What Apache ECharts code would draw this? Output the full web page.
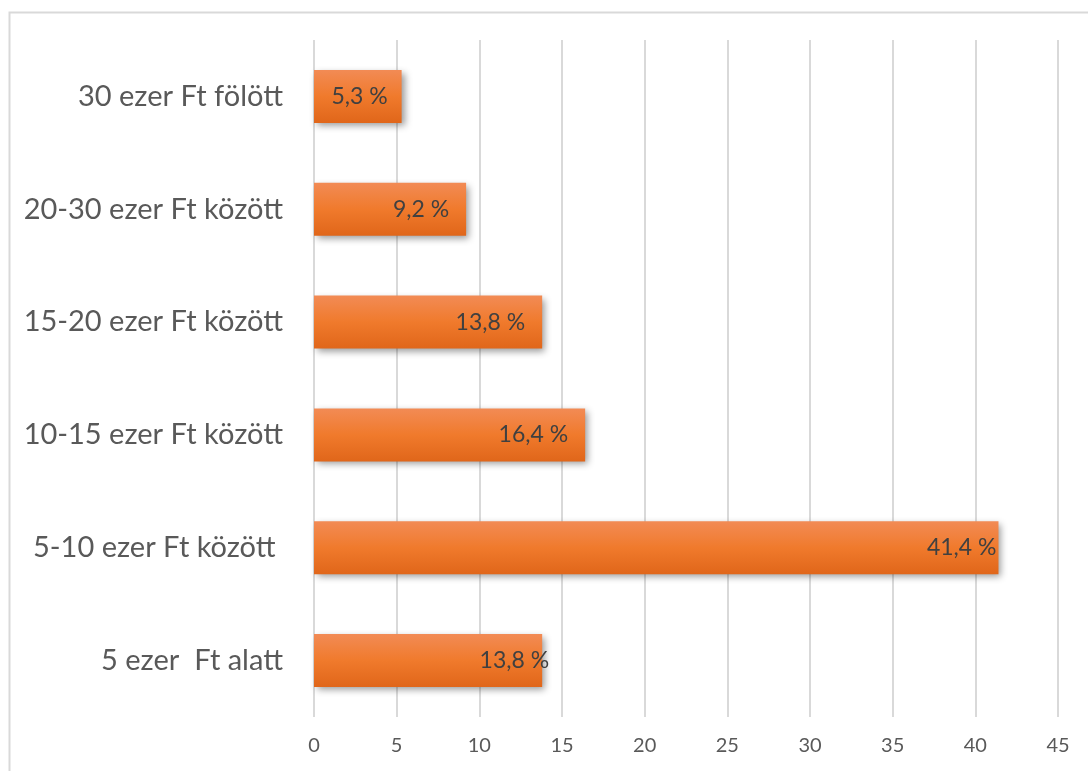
<!DOCTYPE html>
<html><head><meta charset="utf-8">
<script src="https://cdn.jsdelivr.net/npm/echarts@6/dist/echarts.min.js"></script>
<style>html,body{margin:0;padding:0;background:#fff}#c{width:1088px;height:771px}</style>
</head><body><div id="c"></div>
<script>
const categories = ['5 ezer  Ft alatt', '5-10 ezer Ft között ', '10-15 ezer Ft között', '15-20 ezer Ft között', '20-30 ezer Ft között', '30 ezer Ft fölött'];
const values = [13.8, 41.4, 16.4, 13.8, 9.2, 5.3];
const valueLabels = ['13,8 %', '41,4 %', '16,4 %', '13,8 %', '9,2 %', '5,3 %'];
const xTicks = [0, 5, 10, 15, 20, 25, 30, 35, 40, 45];

// manual label nudges (px) as in the original layout
const labelShift = {0: 24, 1: 15, 5: 3};

const font = 'Lato, "Open Sans", sans-serif';
const chart = echarts.init(document.getElementById('c'), null, {renderer: 'canvas'});
chart.setOption({
  animation: false,
  backgroundColor: '#fff',
  graphic: [{
    type: 'rect', left: 7, top: 10, z: -10,
    shape: {width: 1200, height: 900},
    style: {fill: 'none', stroke: '#d9d9d9', lineWidth: 2}
  }],
  grid: {left: 314, top: 40, width: 744, height: 677, containLabel: false},
  xAxis: {
    type: 'value', min: xTicks[0], max: xTicks[xTicks.length - 1], interval: 5,
    axisLine: {show: false}, axisTick: {show: false},
    splitLine: {show: true, lineStyle: {color: '#d9d9d9', width: 2}},
    axisLabel: {color: '#595959', fontSize: 20, fontFamily: font, margin: 19}
  },
  yAxis: {
    type: 'category', data: categories,
    axisLine: {show: false}, axisTick: {show: false},
    axisLabel: {color: '#595959', fontSize: 29, fontFamily: font, margin: 31}
  },
  series: [{
    type: 'bar',
    data: values.map((v, i) => ({
      value: v,
      label: labelShift[i] ? {offset: [labelShift[i], 0]} : undefined
    })),
    barCategoryGap: '53%',
    itemStyle: {
      color: new echarts.graphic.LinearGradient(0, 0, 0, 1, [
        {offset: 0, color: '#f28b55'},
        {offset: 0.5, color: '#f07a2c'},
        {offset: 1, color: '#e0661a'}
      ]),
      shadowColor: 'rgba(0,0,0,0.4)', shadowBlur: 7, shadowOffsetX: 3, shadowOffsetY: 3
    },
    label: {
      show: true, position: 'insideRight', distance: 17,
      color: '#404040', fontSize: 23, fontFamily: font,
      formatter: p => valueLabels[p.dataIndex]
    }
  }]
});
</script></body></html>
